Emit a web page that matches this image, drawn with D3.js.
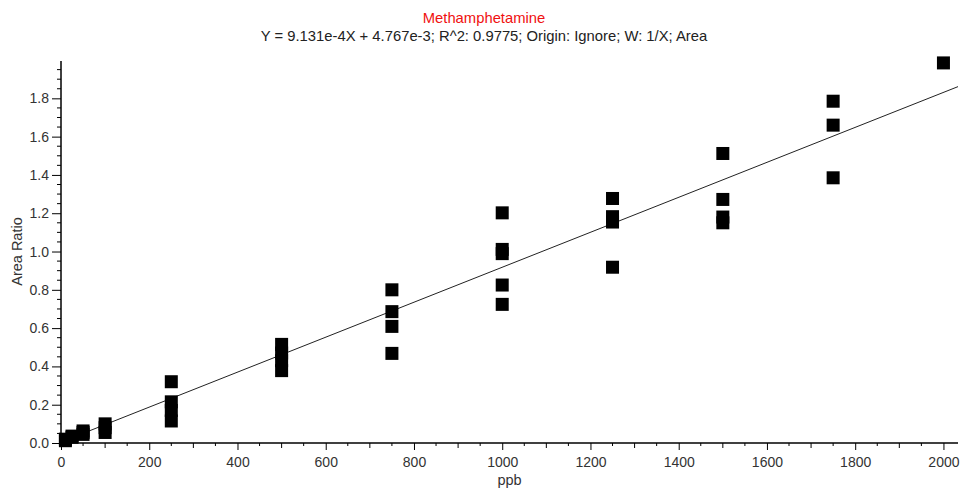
<!DOCTYPE html>
<html>
<head>
<meta charset="utf-8">
<script src="https://cdn.jsdelivr.net/npm/d3@7"></script>
<style>
  body { margin: 0; background: #fff; }
  svg { display: block; font-family: "Liberation Sans", Arial, sans-serif; }
  .tick text { fill: #333; font-size: 14px; }
</style>
</head>
<body>
<div id="chart"></div>
<script>
var width = 960,
    height = 489;

var title = "Methamphetamine";
var subtitle = "Y = 9.131e-4X + 4.767e-3; R^2: 0.9775; Origin: Ignore; W: 1/X; Area";

// concentration (ppb) and measured area ratio
var ppb = [10, 10, 25, 25, 50, 50, 50,
  100, 100, 100,
  250, 250, 250, 250,
  500, 500, 500, 500,
  750, 750, 750, 750,
  1000, 1000, 1000, 1000, 1000,
  1250, 1250, 1250, 1250,
  1500, 1500, 1500, 1500,
  1750, 1750, 1750,
  2000];
var ratio = [0.012, 0.02, 0.03, 0.036, 0.045, 0.055, 0.063,
  0.1, 0.08, 0.055,
  0.32, 0.215, 0.17, 0.115,
  0.515, 0.47, 0.43, 0.378,
  0.80, 0.686, 0.609, 0.468,
  1.202, 1.011, 0.989, 0.825, 0.724,
  1.277, 1.182, 1.154, 0.918,
  1.512, 1.272, 1.18, 1.15,
  1.785, 1.66, 1.385,
  1.985];

var slope = 9.131e-4, intercept = 4.767e-3;

var xTicks = [0, 200, 400, 600, 800, 1000, 1200, 1400, 1600, 1800, 2000];
var yTicks = [0, 0.2, 0.4, 0.6, 0.8, 1.0, 1.2, 1.4, 1.6, 1.8];

var margin = {left: 61, right: 2, top: 61, bottom: 46};

var x = d3.scaleLinear().domain([0, 2033]).range([margin.left, width - margin.right]);
var y = d3.scaleLinear().domain([0, 1.995]).range([height - margin.bottom, margin.top]);

var svg = d3.select("#chart").append("svg")
  .attr("width", width)
  .attr("height", height);

// titles
svg.append("text")
  .attr("x", 484).attr("y", 23)
  .attr("text-anchor", "middle")
  .style("font-size", "14.8px")
  .style("fill", "#f01010")
  .text(title);

svg.append("text")
  .attr("x", 484).attr("y", 41)
  .attr("text-anchor", "middle")
  .style("font-size", "14.8px")
  .style("fill", "#222")
  .text(subtitle);

// minor ticks
var xMinor = d3.range(50, 2033, 50).filter(function(v){ return v % 100 != 0 });
var xMid = d3.range(100, 2033, 200);
var yMinor = d3.range(0.05, 1.99, 0.05).filter(function(v){ return Math.abs(v * 5 - Math.round(v * 5)) > 1e-6 });

var axisG = svg.append("g");

axisG.selectAll("line.xminor")
  .data(xMinor).enter().append("line")
  .attr("x1", function(d){ return x(d) }).attr("x2", function(d){ return x(d) })
  .attr("y1", y(0)).attr("y2", y(0) + 3)
  .attr("stroke", "#000");

axisG.selectAll("line.xmid")
  .data(xMid).enter().append("line")
  .attr("x1", function(d){ return x(d) }).attr("x2", function(d){ return x(d) })
  .attr("y1", y(0)).attr("y2", y(0) + 5)
  .attr("stroke", "#000");

axisG.selectAll("line.yminor")
  .data(yMinor).enter().append("line")
  .attr("y1", function(d){ return y(d) }).attr("y2", function(d){ return y(d) })
  .attr("x1", x(0)).attr("x2", x(0) - 4)
  .attr("stroke", "#000");

var xAxis = d3.axisBottom(x).tickValues(xTicks).tickSize(7).tickPadding(7).tickFormat(d3.format("d"));
var yAxis = d3.axisLeft(y).tickValues(yTicks).tickSize(9).tickPadding(3).tickFormat(d3.format(".1f"));

var gx = svg.append("g")
  .attr("transform", "translate(0," + y(0) + ")")
  .call(xAxis);
gx.select(".domain").attr("d", "M" + x(0) + ",0H" + (width - margin.right)).attr("stroke-width", 1.5);

var gy = svg.append("g")
  .attr("transform", "translate(" + x(0) + ",0)")
  .call(yAxis);
gy.select(".domain").attr("d", "M0," + y(0) + "V" + margin.top).attr("stroke-width", 1.5);

// axis titles
svg.append("text")
  .attr("x", (x(0) + width - margin.right) / 2).attr("y", 485)
  .attr("text-anchor", "middle")
  .style("font-size", "14.5px").style("fill", "#333")
  .text("ppb");

svg.append("text")
  .attr("transform", "translate(22," + y(1.0) + ") rotate(-90)")
  .attr("text-anchor", "middle")
  .style("font-size", "14.5px").style("fill", "#333")
  .text("Area Ratio");

// regression line
var xd = x.domain();
svg.append("line")
  .attr("x1", x(xd[0])).attr("y1", y(slope * xd[0] + intercept))
  .attr("x2", x(xd[1])).attr("y2", y(slope * xd[1] + intercept))
  .attr("stroke", "#222")
  .attr("stroke-width", 1);

// points
var s = 13;
svg.selectAll("rect.pt")
  .data(d3.range(ppb.length)).enter().append("rect")
  .attr("class", "pt")
  .attr("x", function(i){ return x(ppb[i]) - s / 2 })
  .attr("y", function(i){ return y(ratio[i]) - s / 2 })
  .attr("width", s).attr("height", s)
  .attr("fill", "#000");
</script>
</body>
</html>
